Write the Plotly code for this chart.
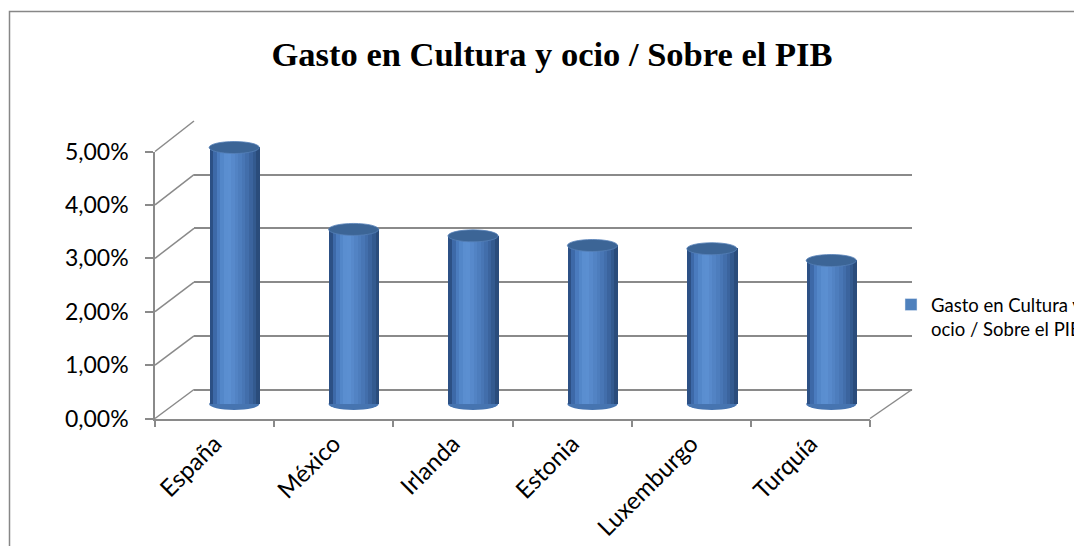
import plotly.graph_objects as go

# ---- data ----
categories = ["España", "México", "Irlanda", "Estonia", "Luxemburgo", "Turquía"]
values = [4.79, 3.26, 3.14, 2.96, 2.90, 2.68]   # % of GDP
tick_vals = [0, 1, 2, 3, 4, 5]
tick_labels = ["0,00%", "1,00%", "2,00%", "3,00%", "4,00%", "5,00%"]
series_name = "Gasto en Cultura y<br>ocio / Sobre el PIB"
title_text = "Gasto en Cultura y ocio / Sobre el PIB"

W, H = 1082, 546
OFF = 8  # page body margin offset
def px(x):
    return (x - OFF) / W
def py(y):
    return 1 - (y - OFF) / H

# pixel geometry of the pseudo-3D box (front plane, back wall, mid depth)
FX0, FX1, FY0, FY5 = 155, 870, 418.5, 151.5
BX0, BX1, BY0, BY5 = 194, 912, 389.5, 121.0
MX0, MX1 = (FX0 + BX0) / 2, (FX1 + BX1) / 2
MY0, MY5 = (FY0 + BY0) / 2, (FY5 + BY5) / 2
MSC = (MY0 - MY5) / 5       # px per unit on mid axis
YLOW = -0.4                 # room for bottom caps

GRID = "#8a8a8a"
font_lbl = "Lato, Calibri, 'Open Sans', sans-serif"

fig = go.Figure()

# invisible helper traces so the front axes and back wall subplots are drawn
fig.add_trace(go.Scatter(x=categories, y=values, xaxis="x", yaxis="y",
                         mode="none", showlegend=False, hoverinfo="skip"))
fig.add_trace(go.Scatter(x=categories, y=values, xaxis="x2", yaxis="y2",
                         mode="none", showlegend=False, hoverinfo="skip"))

# cylinder body as vertical strips (shaded)
strip_colors = ["#2C5085", "#3D69A8", "#4A7BBE", "#5387C9", "#5A8ED0", "#5B8FD1",
                "#5789CB", "#5283C4", "#4D7DBD", "#4876B5", "#426EAB", "#3B649E",
                "#335A8F", "#2A4C7B"]
bw = 0.42
n = len(strip_colors)
sw = bw / n
for i, c in enumerate(strip_colors):
    fig.add_trace(go.Bar(
        x=categories, y=values, xaxis="x3", yaxis="y3",
        width=[sw * 1.08] * len(categories), offset=-bw / 2 + i * sw,
        marker=dict(color=c, line=dict(width=0)),
        showlegend=False, hoverinfo="skip"))

# legend entry
fig.add_trace(go.Bar(
    x=[categories[0]], y=[0], xaxis="x3", yaxis="y3",
    marker=dict(color="#4F81BD"), name=series_name, showlegend=True,
    hoverinfo="skip", width=[0.0001]))

layout_axes = dict(
    xaxis=dict(domain=[px(FX0), px(FX1)], anchor="y", type="category", automargin=False,
               range=[-0.5, len(categories) - 0.5], showline=True, linecolor=GRID,
               linewidth=1.5, ticks="outside", ticklen=7, tickcolor=GRID, tickwidth=1.5,
               tickson="boundaries", showgrid=False, tickangle=-45,
               tickfont=dict(family=font_lbl, size=24, color="#000000"),
               categoryorder="array", categoryarray=categories),
    yaxis=dict(domain=[py(FY0), py(FY5)], anchor="x", range=[0, 5], automargin=False,
               tickvals=tick_vals, ticktext=tick_labels,
               showline=True, linecolor=GRID, linewidth=1.5, ticks="outside",
               ticklen=8, tickcolor=GRID, tickwidth=1.5, showgrid=False, zeroline=False,
               tickfont=dict(family=font_lbl, size=23, color="#000000"),
               ticklabelstandoff=12),
    xaxis2=dict(domain=[px(BX0), px(BX1)], anchor="y2", type="category", automargin=False,
                range=[-0.5, len(categories) - 0.5], visible=False, showgrid=False,
                categoryorder="array", categoryarray=categories),
    yaxis2=dict(domain=[py(BY0), py(BY5)], anchor="x2", range=[0, 5], automargin=False,
                tickvals=tick_vals, showgrid=True, gridcolor=GRID, gridwidth=1.5,
                zeroline=True, zerolinecolor=GRID, zerolinewidth=1.5,
                showticklabels=False, ticks="", showline=False),
    xaxis3=dict(domain=[px(MX0), px(MX1)], anchor="y3", type="category", automargin=False,
                range=[-0.5, len(categories) - 0.5], visible=False,
                categoryorder="array", categoryarray=categories),
    yaxis3=dict(domain=[py(MY0 - YLOW * MSC), py(MY5)], anchor="x3", automargin=False,
                range=[YLOW, 5], visible=False),
)

shapes = []
# diagonals on the left side for each gridline level
for v in tick_vals:
    yf = FY0 + (FY5 - FY0) * v / 5
    yb = BY0 + (BY5 - BY0) * v / 5
    shapes.append(dict(type="line", xref="paper", yref="paper",
                       x0=px(FX0), y0=py(yf), x1=px(BX0), y1=py(yb),
                       line=dict(color=GRID, width=1.5)))
# right floor edge
shapes.append(dict(type="line", xref="paper", yref="paper",
                   x0=px(FX1), y0=py(FY0), x1=px(BX1), y1=py(BY0),
                   line=dict(color=GRID, width=1.5)))
# chart border
shapes.append(dict(type="rect", xref="paper", yref="paper",
                   x0=px(9.5), y0=py(11.5), x1=px(1200), y1=py(700),
                   line=dict(color="#878787", width=1.5), fillcolor="rgba(0,0,0,0)",
                   layer="below"))

# ellipse caps (data coordinates on mid-depth axes)
eh = 6 / MSC   # half height of ellipse in data units
for i, v in enumerate(values):
    shapes.append(dict(type="circle", xref="x3", yref="y3",
                       x0=i - bw / 2, x1=i + bw / 2, y0=-eh, y1=eh,
                       fillcolor="#4674B0", line=dict(width=0), layer="below"))
    shapes.append(dict(type="circle", xref="x3", yref="y3",
                       x0=i - bw / 2, x1=i + bw / 2, y0=v - eh, y1=v + eh,
                       fillcolor="#3C6596", line=dict(color="#5580B8", width=0.8),
                       layer="above"))

fig.update_layout(
    width=W, height=H, autosize=False,
    margin=dict(l=0, r=0, t=0, b=0, autoexpand=False),
    paper_bgcolor="white", plot_bgcolor="rgba(0,0,0,0)",
    barmode="overlay", bargap=0,
    title=dict(text="<b>" + title_text + "</b>", x=px(552), xanchor="center",
               y=py(54), yanchor="middle",
               font=dict(family="'Liberation Serif', 'Times New Roman', serif",
                         size=34.5, color="#000000")),
    legend=dict(x=px(891), xanchor="left", y=py(286), yanchor="top",
                font=dict(family=font_lbl, size=18.5, color="#000000"),
                bgcolor="rgba(0,0,0,0)", valign="top", traceorder="normal"),
    shapes=shapes,
    **layout_axes,
)

fig.write_html("out.html")
